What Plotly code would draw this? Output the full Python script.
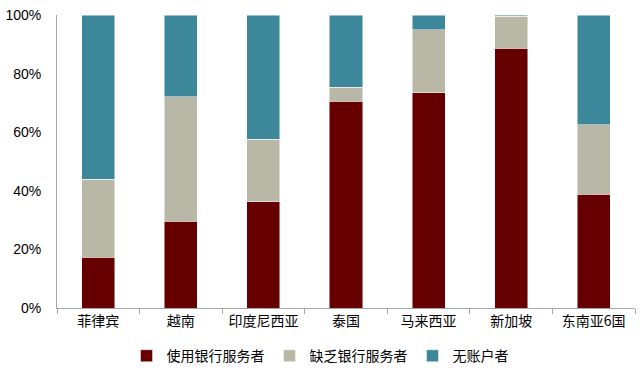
import plotly.graph_objects as go

categories = ["菲律宾", "越南", "印度尼西亚", "泰国", "马来西亚", "新加坡", "东南亚6国"]
banked = [17.3, 29.6, 36.2, 70.5, 73.4, 88.6, 38.9]
underbanked = [26.6, 42.5, 21.4, 4.8, 21.5, 10.9, 23.7]
unbanked = [56.1, 27.9, 42.4, 24.7, 5.1, 0.5, 37.4]
series_names = ["使用银行服务者", "缺乏银行服务者", "无账户者"]
colors = ["#660000", "#B9B8A6", "#3D879A"]

fig = go.Figure()
for name, vals, c in zip(series_names, [banked, underbanked, unbanked], colors):
    fig.add_trace(go.Bar(
        x=categories, y=vals, name=name,
        marker=dict(color=c, line=dict(color="rgba(255,255,255,0.6)", width=0.8)),
        width=0.4,
    ))

fig.update_layout(
    barmode="stack",
    width=640, height=371,
    margin=dict(l=57, r=5, t=15, b=63),
    paper_bgcolor="white", plot_bgcolor="white",
    font=dict(family="Arial, Liberation Sans, Noto Sans CJK SC", size=14, color="#000000"),
    legend=dict(orientation="h", x=0.5, xanchor="center", xref="container",
                y=0.04, yanchor="middle", yref="container",
                font=dict(size=14, family="Noto Sans CJK SC"), itemwidth=30,
                traceorder="normal"),
    showlegend=True,
)
fig.update_xaxes(
    showline=True, linecolor="#A6A6A6", linewidth=1,
    ticks="outside", tickson="boundaries", ticklen=5, tickcolor="#A6A6A6",
    tickfont=dict(family="Noto Sans CJK SC", size=14),
    showgrid=False,
)
fig.update_yaxes(
    range=[0, 100], tickvals=[0, 20, 40, 60, 80, 100],
    ticktext=["0%", "20%", "40%", "60%", "80%", "100%"],
    showline=True, linecolor="#A6A6A6", linewidth=1,
    showgrid=False, ticks="", zeroline=False, ticklabelstandoff=12,
    tickfont=dict(size=14),
)

fig.write_html("out.html")
